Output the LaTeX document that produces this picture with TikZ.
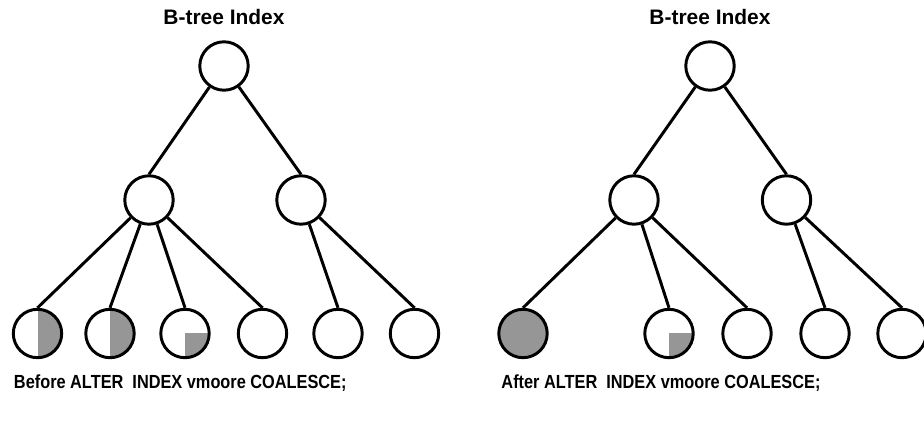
\documentclass[tikz,border=0pt]{standalone}
\usepackage{fontspec}
\setmainfont{Liberation Sans}
\definecolor{leafgray}{RGB}{150,150,150}
\tikzset{
  treenode/.style={circle, draw, inner sep=0pt, minimum size=1.21cm},
  halfnode/.style={treenode, path picture={\fill[leafgray] (path picture bounding box.north) rectangle (path picture bounding box.south east);}},
  quarternode/.style={treenode, path picture={\fill[leafgray] (path picture bounding box.center) rectangle (path picture bounding box.south east);}},
  fullnode/.style={treenode, fill=leafgray},
  treetitle/.style={inner sep=0pt, font=\bfseries\fontsize{14.9}{17}\selectfont},
  stmt/.style={inner sep=0pt, anchor=west, font=\bfseries\fontsize{13.5}{16}\selectfont}
}
\begin{document}
\begin{tikzpicture}[x=0.025cm, y=0.025cm, line width=2.1pt]
      \path[use as bounding box, clip] (0,0) rectangle (924,425);

      % before
      \node[treetitle] (ltitle) at (224,407.5) {B-tree Index};
      \node[treenode] (lroot) at (224,359) {};
      \node[treenode] (lc1) at (149,225) {};
      \node[treenode] (lc2) at (301,225) {};
      \node[halfnode] (ll1) at (37.5,91.5) {};
      \node[halfnode] (ll2) at (110,91.5) {};
      \node[quarternode] (ll3) at (185,91.5) {};
      \node[treenode] (ll4) at (262.5,91.5) {};
      \node[treenode] (ll5) at (338,91.5) {};
      \node[treenode] (ll6) at (414.5,91.5) {};

      \draw (lroot) -- (lc1.north);
      \draw (lroot) -- (lc2.north);
      \draw (lc1) -- (ll1.north);
      \draw (lc1) -- (ll2.north);
      \draw (lc1) -- (ll3.north);
      \draw (lc1) -- (ll4.north);
      \draw (lc2) -- (ll5.north);
      \draw (lc2) -- (ll6.north);

      \node[stmt] (lstmt) at (12.5,42) {\scalebox{0.86}[1]{Before ALTER\ \ INDEX vmoore COALESCE;}};

      % after
      \node[treetitle] (rtitle) at (710,407.5) {B-tree Index};
      \node[treenode] (rroot) at (710,359) {};
      \node[treenode] (rc1) at (634,225) {};
      \node[treenode] (rc2) at (786.5,225) {};
      \node[fullnode] (rl1) at (523,91.5) {};
      \node[quarternode] (rl3) at (669,91.5) {};
      \node[treenode] (rl4) at (747,91.5) {};
      \node[treenode] (rl5) at (825,91.5) {};
      \node[treenode] (rl6) at (902,91.5) {};

      \draw (rroot) -- (rc1.north);
      \draw (rroot) -- (rc2.north);
      \draw (rc1) -- (rl1.north);
      \draw (rc1) -- (rl3.north);
      \draw (rc1) -- (rl4.north);
      \draw (rc2) -- (rl5.north);
      \draw (rc2) -- (rl6.north);

      \node[stmt] (rstmt) at (500,42) {\scalebox{0.86}[1]{After ALTER\ \ INDEX vmoore COALESCE;}};
    \end{tikzpicture}
\end{document}
